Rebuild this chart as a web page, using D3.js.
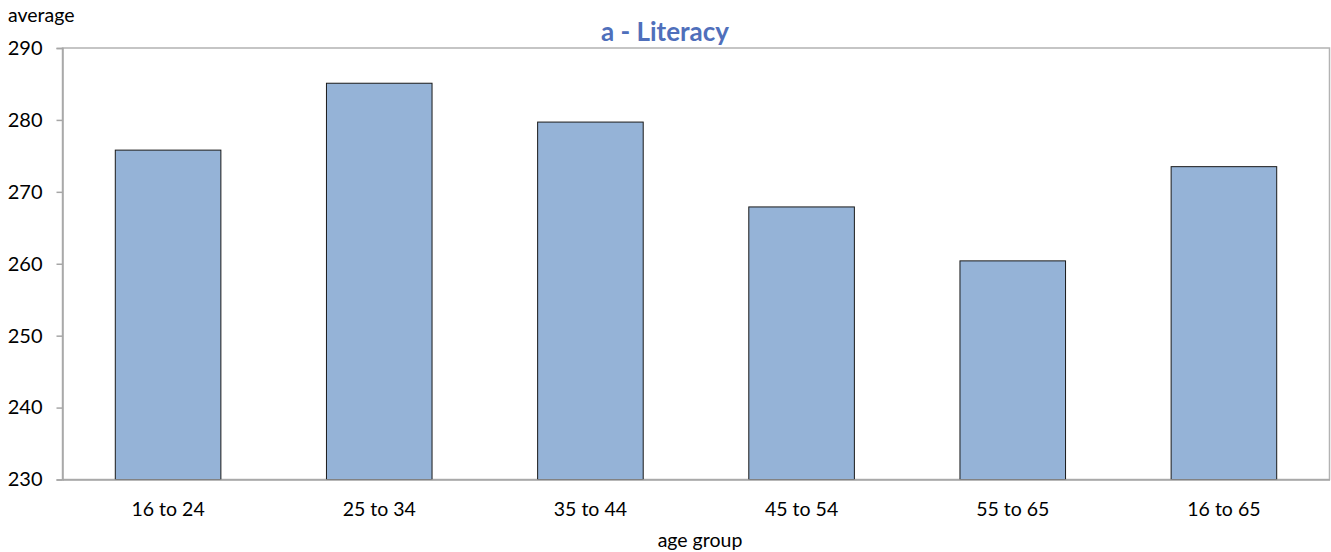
<!DOCTYPE html>
<html><head><meta charset="utf-8">
<script src="https://cdn.jsdelivr.net/npm/d3@7"></script>
<style>body{margin:0;background:#fff}svg{display:block}text{font-family:Lato,"Open Sans",sans-serif}</style>
</head><body><svg id="c" width="1331" height="552"></svg>
<script>
const categories = ["16 to 24","25 to 34","35 to 44","45 to 54","55 to 65","16 to 65"];
const values = [275.8, 285.1, 279.7, 267.9, 260.4, 273.5];
const yTicks = [230,240,250,260,270,280,290];
const title = "a - Literacy";
const yLabel = "average";
const xLabel = "age group";

const svg = d3.select("#c");
const m = {l:62.5, r:1329.5, t:48, b:479.5};
const x = d3.scaleBand().domain(categories).range([m.l, m.r]).paddingInner(0.5).paddingOuter(0.25);
const y = d3.scaleLinear().domain([230,290]).range([m.b, m.t]);

// plot border
svg.append("rect").attr("x", m.l).attr("y", m.t).attr("width", m.r-m.l).attr("height", m.b-m.t)
  .attr("fill","none").attr("stroke","#b3b3b3").attr("stroke-width",1.5);

// bars
svg.selectAll("rect.bar").data(values).join("rect").attr("class","bar")
  .attr("x",(d,i)=>x(categories[i])).attr("width",x.bandwidth())
  .attr("y",d=>y(d)).attr("height",d=>y(230)-y(d))
  .attr("fill","#95b3d7").attr("stroke","#1a1a1a").attr("stroke-width",1);

// y axis
const ya = d3.axisLeft(y).tickValues(yTicks).tickSize(6).tickPadding(14).tickFormat(d3.format("d"));
const yg = svg.append("g").attr("transform",`translate(${m.l},0)`).call(ya);
yg.select(".domain").attr("stroke","#a6a6a6").attr("stroke-width",1.5);
yg.selectAll(".tick line").attr("stroke","#a6a6a6").attr("stroke-width",1.5);
yg.selectAll("text").attr("font-size",20).attr("fill","#000").style("font-family","Lato,sans-serif");

// x axis
const xa = d3.axisBottom(x).tickSize(0).tickPadding(23);
const xg = svg.append("g").attr("transform",`translate(0,${m.b})`).call(xa);
xg.select(".domain").attr("stroke","#a6a6a6").attr("stroke-width",1.5);
xg.selectAll("text").attr("font-size",19.5).attr("fill","#000").style("font-family","Lato,sans-serif");

svg.append("text").attr("x",665).attr("y",41).attr("text-anchor","middle")
  .attr("font-size",26).attr("font-weight","bold").attr("fill","#4f6fbb").text(title);
svg.append("text").attr("x",8).attr("y",22).attr("font-size",19.5).attr("fill","#000").text(yLabel);
svg.append("text").attr("x",700).attr("y",547).attr("text-anchor","middle").attr("font-size",19.5).attr("fill","#000").text(xLabel);
</script></body></html>
